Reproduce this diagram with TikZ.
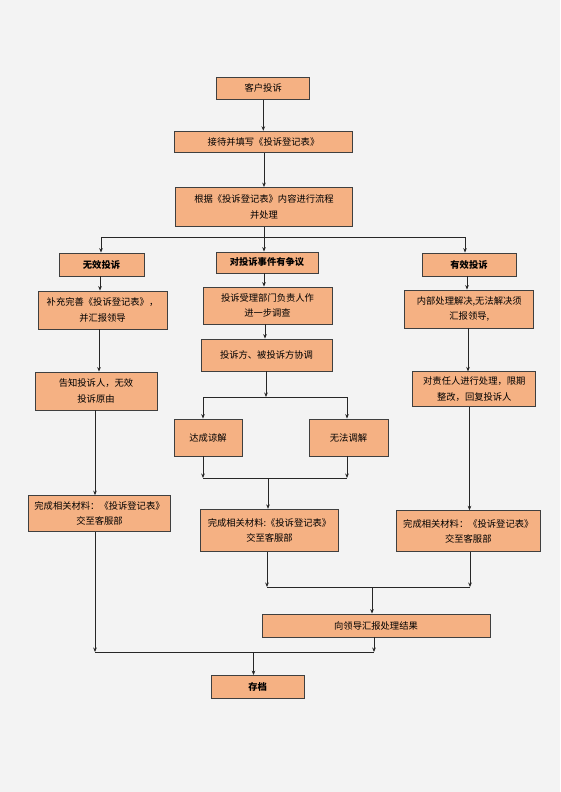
\documentclass[tikz,border=0pt]{standalone}
\usepackage{fontspec}
\setmainfont{Noto Sans CJK SC}
\usetikzlibrary{arrows.meta}
\definecolor{bg}{HTML}{F3F3F3}
\definecolor{boxfill}{HTML}{F5B183}
\definecolor{boxline}{HTML}{3F3F3F}
\definecolor{lncol}{HTML}{262626}
\begin{document}
\begin{tikzpicture}[x=1pt,y=-1pt,
  box/.style={draw=boxline,line width=0.8pt,fill=boxfill,inner sep=0pt,align=center,
    font=\fontsize{9.3}{15.5}\selectfont},
  bbox/.style={box,font=\fontsize{9.3}{15.5}\selectfont\bfseries},
  sz/.style 2 args={minimum width=#1pt,minimum height=#2pt},
  ln/.style={draw=lncol,line width=0.8pt},
  arr/.style={ln,-{Stealth[length=4.5pt,width=3.6pt]}}]
\fill[bg] (0,0) rectangle (560,792);
\useasboundingbox (0,0) rectangle (560,792);

% top chain
\node[box,sz={93}{22}] (n1) at (263.2,88.3) {客户投诉};
\node[box,sz={178}{21}] (n2) at (263.5,141.7) {接待并填写《投诉登记表》};
\node[box,sz={177}{39}] (n3) at (264,207) {根据《投诉登记表》内容进行流程\\并处理};

% three headings
\node[bbox,sz={85}{23}] (nL1) at (101.5,264.5) {无效投诉};
\node[bbox,sz={102}{21}] (nM1) at (267,262.5) {对投诉事件有争议};
\node[bbox,sz={94}{23}] (nR1) at (469,264.5) {有效投诉};

% left column
\node[box,sz={129}{38}] (nL2) at (102.5,310) {补充完善《投诉登记表》，\\并汇报领导};
\node[box,sz={122}{38}] (nL3) at (96,391) {告知投诉人，无效\\投诉原由};
\node[box,sz={142}{36}] (nL4) at (99.5,513.6) {完成相关材料：《投诉登记表》\\交至客服部};

% middle column
\node[box,sz={129}{37}] (nM2) at (267.5,305.5) {投诉受理部门负责人作\\进一步调查};
\node[box,sz={131}{32}] (nM3) at (266.5,355) {投诉方、被投诉方协调};
\node[box,sz={68}{37}] (nM4a) at (208,437.5) {达成谅解};
\node[box,sz={79}{37}] (nM4b) at (348.5,437.5) {无法调解};
\node[box,sz={138}{42.5}] (nM5) at (269.5,530.5) {完成相关材料:《投诉登记表》\\交至客服部};

% right column
\node[box,sz={129}{38}] (nR2) at (469.3,309) {内部处理解决,无法解决须\\汇报领导,};
\node[box,sz={123}{35}] (nR3) at (474.3,389.3) {对责任人进行处理，限期\\整改，回复投诉人};
\node[box,sz={143.5}{41}] (nR4) at (468.3,531.2) {完成相关材料：《投诉登记表》\\交至客服部};

% bottom
\node[box,sz={228}{23}] (nB1) at (376,625.5) {向领导汇报处理结果};
\node[bbox,sz={93}{23}] (nB2) at (257.7,687) {存档};

% lanes
\coordinate (xT1) at (263.3,0);
\coordinate (xT2) at (264,0);
\coordinate (xL1) at (100,0);
\coordinate (xL2) at (99,0);
\coordinate (xL3) at (95,0);
\coordinate (xM1) at (264,0);
\coordinate (xM2) at (265,0);
\coordinate (xM5) at (267,0);
\coordinate (xR1) at (467,0);
\coordinate (xR2) at (468,0);
\coordinate (xR3) at (469.5,0);
\coordinate (xB1) at (374,0);

% junctions
\coordinate (j1) at (264,237);
\coordinate (jL) at (101,237);
\coordinate (jR) at (465,237);
\coordinate (jM1) at (266,397);
\coordinate (jMa) at (203,397);
\coordinate (jMb) at (347,397);
\coordinate (jMc) at (203,478);
\coordinate (jMd) at (347,478);
\coordinate (jMe) at (268,478);
\coordinate (jN1) at (267,587);
\coordinate (jN2) at (470,587);
\coordinate (jN3) at (372,587);
\coordinate (jB1) at (95,652);
\coordinate (jP1) at (374,652);
\coordinate (jP2) at (253.5,652);

% top connectors
\draw[arr] (xT1 |- n1.south) -- (xT1 |- n2.north);
\draw[arr] (xT2 |- n2.south) -- (xT2 |- n3.north);
\draw[ln] (j1 |- n3.south) -- (j1);
\draw[ln] (jL) -- (jR);
\draw[arr] (jL) -- (jL |- nL1.north);
\draw[arr] (j1) -- (j1 |- nM1.north);
\draw[arr] (jR) -- (jR |- nR1.north);

% left connectors
\draw[arr] (xL1 |- nL1.south) -- (xL1 |- nL2.north);
\draw[arr] (xL2 |- nL2.south) -- (xL2 |- nL3.north);
\draw[arr] (xL3 |- nL3.south) -- (xL3 |- nL4.north);
\draw[arr] (xL3 |- nL4.south) -- (jB1);

% middle connectors
\draw[arr] (xM1 |- nM1.south) -- (xM1 |- nM2.north);
\draw[arr] (xM2 |- nM2.south) -- (xM2 |- nM3.north);
\draw[arr] (jM1 |- nM3.south) -- (jM1);
\draw[ln] (jMa) -- (jMb);
\draw[arr] (jMa) -- (jMa |- nM4a.north);
\draw[arr] (jMb) -- (jMb |- nM4b.north);
\draw[arr] (jMc |- nM4a.south) -- (jMc);
\draw[arr] (jMd |- nM4b.south) -- (jMd);
\draw[ln] (jMc) -- (jMd);
\draw[arr] (jMe) -- (jMe |- nM5.north);
\draw[arr] (xM5 |- nM5.south) -- (jN1);

% right connectors
\draw[arr] (xR1 |- nR1.south) -- (xR1 |- nR2.north);
\draw[arr] (xR2 |- nR2.south) -- (xR2 |- nR3.north);
\draw[arr] (xR3 |- nR3.south) -- (xR3 |- nR4.north);
\draw[arr] (jN2 |- nR4.south) -- (jN2);

% bottom connectors
\draw[ln] (jN1) -- (jN2);
\draw[arr] (jN3) -- (jN3 |- nB1.north);
\draw[arr] (xB1 |- nB1.south) -- (jP1);
\draw[ln] (jB1) -- (jP1);
\draw[arr] (jP2) -- (jP2 |- nB2.north);
\end{tikzpicture}
\end{document}
